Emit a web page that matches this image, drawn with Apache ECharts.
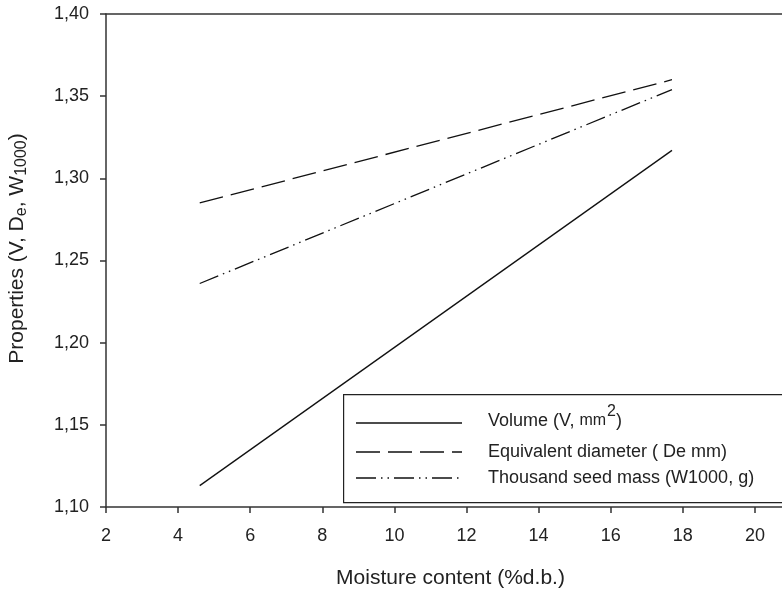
<!DOCTYPE html>
<html><head><meta charset="utf-8">
<script src="https://cdn.jsdelivr.net/npm/echarts@6/dist/echarts.min.js"></script>
<style>html,body{margin:0;padding:0;background:#fff}#c{width:782px;height:589px}</style>
</head><body><div id="c"></div>
<script>
const xStart = [4.6, 17.7];
const volume = [1.113, 1.317];
const eqDiameter = [1.285, 1.360];
const seedMass = [1.236, 1.354];
const seriesNames = ['Volume (V, mm²)', 'Equivalent diameter ( De mm)', 'Thousand seed mass (W1000, g)'];
const yTicks = [1.10, 1.15, 1.20, 1.25, 1.30, 1.35, 1.40];

const chart = echarts.init(document.getElementById('c'), null, {renderer: 'canvas'});
const font = 'Arial, "Liberation Sans", sans-serif';
const toPairs = v => xStart.map((x, i) => [x, v[i]]);
const axisCol = '#333';
chart.setOption({
  animation: false,
  grid: {left: 106, top: 14, bottom: 82, right: -45, containLabel: false, outerBoundsMode: 'none'},
  xAxis: [{
    type: 'value', min: 2, max: 22, interval: 2,
    axisLine: {show: true, lineStyle: {color: axisCol, width: 1.5}},
    axisTick: {show: true, length: 6, lineStyle: {color: axisCol, width: 1.5}},
    axisLabel: {color: '#222', fontSize: 18, fontFamily: font, margin: 20},
    splitLine: {show: false},
    name: 'Moisture content (%d.b.)', nameLocation: 'middle', nameGap: 61,
    nameTextStyle: {color: '#222', fontSize: 21, fontFamily: font, padding: [0, 32, 0, 0]}
  }, {
    type: 'value', min: 2, max: 22, position: 'top',
    axisLine: {show: true, lineStyle: {color: axisCol, width: 1.5}},
    axisTick: {show: false}, axisLabel: {show: false}, splitLine: {show: false}
  }],
  yAxis: {
    type: 'value', min: 1.10, max: 1.40, interval: 0.05,
    axisLine: {show: true, lineStyle: {color: axisCol, width: 1.5}},
    axisTick: {show: true, length: 6, lineStyle: {color: axisCol, width: 1.5}},
    axisLabel: {color: '#222', fontSize: 18, fontFamily: font, margin: 17,
      formatter: v => { const t = yTicks.find(k => Math.abs(k - v) < 1e-6); return (t !== undefined ? t : v).toFixed(2).replace('.', ','); }},
    splitLine: {show: false},
    name: '{n|Properties (V, D}{s|e}{n|, W}{s|1000}{n|)}', nameLocation: 'middle', nameGap: 76, nameRotate: 90,
    nameTextStyle: {color: '#222', fontFamily: font, padding: [0, 0, 0, 24],
      rich: {n: {fontSize: 21, fontFamily: font, color: '#222'}, s: {fontSize: 16, fontFamily: font, color: '#222', verticalAlign: 'bottom', padding: [10, 0, 0, 0]}}}
  },
  legend: {show: false},
  series: [
    {name: seriesNames[0], type: 'line', data: toPairs(volume), symbol: 'none',
     lineStyle: {color: '#111', width: 1.3, type: 'solid'}},
    {name: seriesNames[1], type: 'line', data: toPairs(eqDiameter), symbol: 'none',
     lineStyle: {color: '#111', width: 1.3, type: [24, 8]}},
    {name: seriesNames[2], type: 'line', data: toPairs(seedMass), symbol: 'none',
     lineStyle: {color: '#111', width: 1.3, type: [20, 5, 1.5, 5, 1.5, 5]}}
  ],
  graphic: [
    {type: 'rect', left: 343, top: 394, shape: {width: 460, height: 108},
     style: {fill: '#fff', stroke: '#222', lineWidth: 1.2}, z: 10},
    {type: 'line', shape: {x1: 356, y1: 423, x2: 462, y2: 423}, style: {stroke: '#111', lineWidth: 1.3}, z: 11},
    {type: 'line', shape: {x1: 356, y1: 452, x2: 462, y2: 452}, style: {stroke: '#111', lineWidth: 1.3, lineDash: [24, 8]}, z: 11},
    {type: 'line', shape: {x1: 356, y1: 478, x2: 462, y2: 478}, style: {stroke: '#111', lineWidth: 1.3, lineDash: [20, 5, 1.5, 5, 1.5, 5]}, z: 11},
    {type: 'text', x: 488, y: 421, z: 11, style: {
      text: '{n|Volume (V, }{m|mm}{s|2}{n|)}', fill: '#222', font: '18px ' + font, verticalAlign: 'middle',
      rich: {n: {fontSize: 18, fontFamily: font, fill: '#222'}, m: {fontSize: 16, fontFamily: font, fill: '#222'}, s: {fontSize: 16, fontFamily: font, fill: '#222', padding: [0, 0, 18, 1]}}}},
    {type: 'text', x: 488, y: 452, z: 11, style: {text: seriesNames[1], fill: '#222', font: '18px ' + font, verticalAlign: 'middle'}},
    {type: 'text', x: 488, y: 478, z: 11, style: {text: seriesNames[2], fill: '#222', font: '18px ' + font, verticalAlign: 'middle'}}
  ]
});
</script></body></html>
